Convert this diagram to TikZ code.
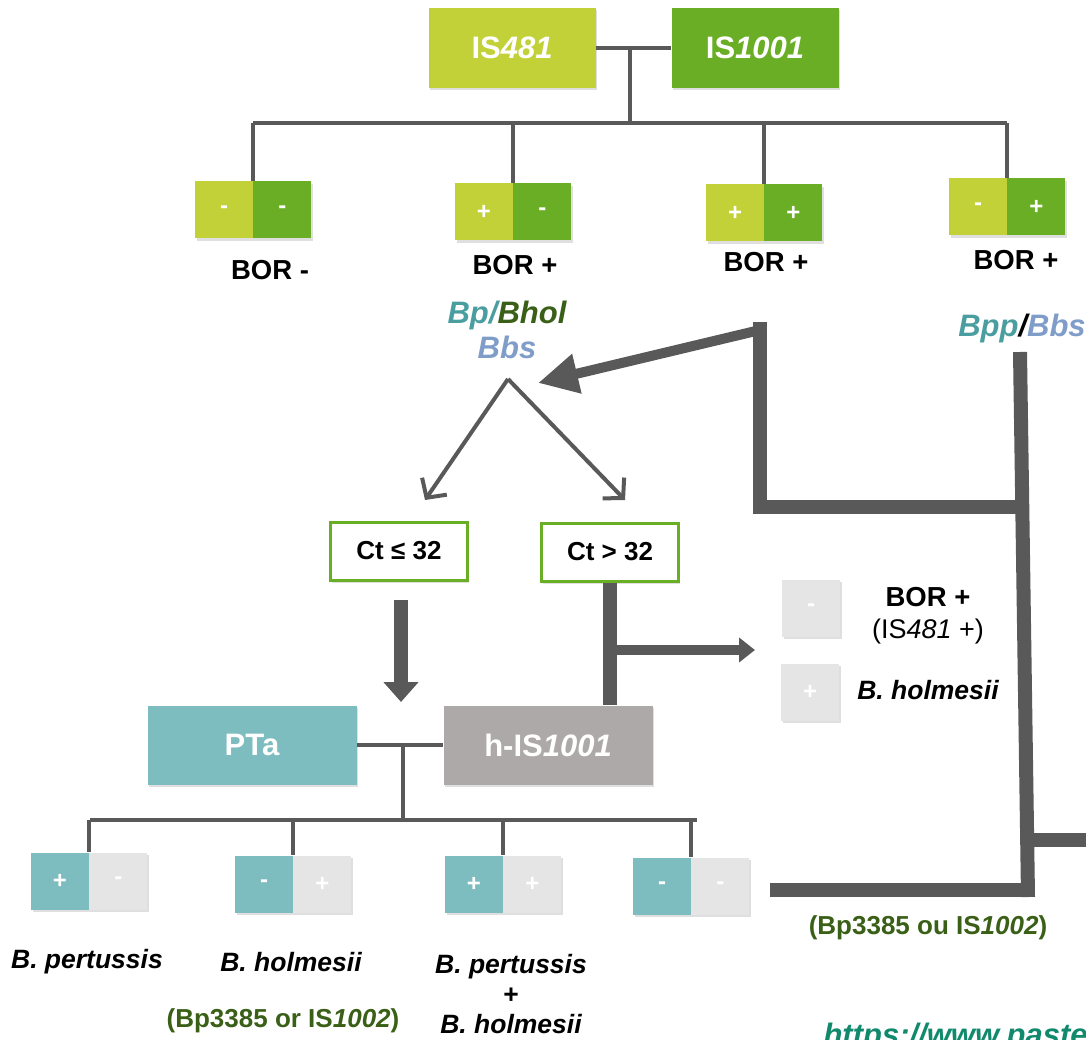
\documentclass[tikz,border=0pt]{standalone}
\usepackage{fontspec}
\setmainfont{Liberation Sans}
\usetikzlibrary{arrows.meta,positioning,shadows}
\definecolor{limegreen}{HTML}{C2D138}
\definecolor{leafgreen}{HTML}{6AAE25}
\definecolor{tealbox}{HTML}{7DBDC0}
\definecolor{taupebox}{HTML}{ADA9A8}
\definecolor{palegray}{HTML}{E5E5E5}
\definecolor{linegray}{HTML}{595959}
\definecolor{darkgreen}{HTML}{3A5F17}
\definecolor{tealtext}{HTML}{4A9E9F}
\definecolor{bluetext}{HTML}{7F9DC8}
\definecolor{urlgreen}{HTML}{11896C}

\begin{document}
\begin{tikzpicture}[x=1pt,y=-1pt,
  boxshadow/.style={drop shadow={shadow xshift=1.5pt,shadow yshift=-2.5pt,opacity=.25}},
  genebox/.style={boxshadow,minimum width=167pt,minimum height=80pt,inner sep=0pt,
    text=white,font=\fontsize{31}{37}\selectfont\bfseries},
  bigbox/.style={boxshadow,minimum width=209pt,minimum height=79pt,inner sep=0pt,
    text=white,font=\fontsize{31}{37}\selectfont\bfseries},
  sq/.style={boxshadow,minimum width=58pt,minimum height=57pt,inner sep=0pt,
    text=white,font=\fontsize{24}{28}\selectfont\bfseries},
  ctbox/.style={boxshadow,draw=leafgreen,line width=3pt,fill=white,minimum width=137pt,
    minimum height=58pt,inner sep=0pt,font=\fontsize{26}{31}\selectfont\bfseries},
  result/.style={font=\fontsize{27.5}{32}\selectfont\bfseries,align=center},
  altgene/.style={font=\fontsize{26}{31}\selectfont\bfseries,text=darkgreen},
  species/.style={font=\fontsize{26.5}{30}\selectfont\bfseries\itshape,align=center},
  link/.style={draw=linegray,line width=4pt},
  bar/.style={draw=linegray,line width=14pt},
  split/.style={draw=linegray,line width=4pt,-{Straight Barb[length=14pt,width=30pt]}},
  fatarrow/.style={draw=linegray,line width=14pt,-{Triangle[length=20pt,width=34pt]}},
  midarrow/.style={draw=linegray,line width=10pt,-{Triangle[length=16pt,width=24pt]}},
  backarrow/.style={draw=linegray,line width=10pt,-{Triangle[length=40pt,width=38pt]}}
]
\useasboundingbox (0,0) rectangle (1086,1040);

% IS481 / IS1001
\node[genebox,fill=limegreen] (is481) at (512,48) {IS\textit{481}};
\node[genebox,fill=leafgreen] (is1001) at (755,48) {IS\textit{1001}};
\draw[link] (is481.east) -- (is1001.west);
\coordinate (topbus) at (630,123);
\draw[link] (topbus |- is481.east) -- (topbus);
\draw[link] (253,123) -- (1007,123);

% first level results
\node[sq,fill=limegreen] (p1a) at (224,210) {-};
\node[sq,fill=leafgreen,right=0pt of p1a] (p1b) {-};
\node[sq,fill=limegreen] (p2a) at (484,212) {+};
\node[sq,fill=leafgreen,right=0pt of p2a] (p2b) {-};
\node[sq,fill=limegreen] (p3a) at (735,213) {+};
\node[sq,fill=leafgreen,right=0pt of p3a] (p3b) {+};
\node[sq,fill=limegreen] (p4a) at (978,207) {-};
\node[sq,fill=leafgreen,right=0pt of p4a] (p4b) {+};
\foreach \p in {p1a,p2a,p3a,p4a}
  \draw[link] (\p.north east |- topbus) -- (\p.north east);
\node[result] (bor1) at (270,270) {BOR -};
\node[result] (bor2) at (515,265) {BOR +};
\node[result] (bor3) at (766,262) {BOR +};
\node[result] (bor4) at (1016,260) {BOR +};

\node[font=\fontsize{31}{35}\selectfont\bfseries\itshape,align=center] (bp) at (507,330)
  {{\color{tealtext}Bp/}{\color{darkgreen}Bhol}\\{\color{bluetext}Bbs}};
\node[font=\fontsize{31}{37}\selectfont\bfseries\itshape] (bpp) at (1022,328)
  {{\color{tealtext}Bpp}/{\color{bluetext}Bbs}};

% Ct split
\coordinate (apex) at (508,379);
\node[ctbox] (ctle) at (399,551) {Ct ≤ 32};
\node[ctbox] (ctgt) at (610,552) {Ct > 32};
\coordinate (tipl) at (425,500);
\coordinate (tipr) at (625,500);
\draw[split] (apex) -- (tipl);
\draw[split] (apex) -- (tipr);

% PTa / h-IS1001
\node[bigbox,fill=tealbox] (pta) at (252,745) {PTa};
\node[bigbox,fill=taupebox] (his) at (548,745) {h-IS\textit{1001}};
\draw[fatarrow] (401,600) -- (401,702);
\draw[bar] (ctgt.south) -- (ctgt.south |- his.north);
\coordinate (branch) at (610,650);
\coordinate (branchend) at (755,650);
\draw[midarrow] (branch) -- (branchend);

\node[sq,fill=palegray] (gm) at (811,608) {-};
\node[sq,fill=palegray] (gp) at (810,692) {+};
\node[result] (borg) at (928,597) {BOR +};
\node[font=\fontsize{27}{32}\selectfont] (isg) at (928,632) {(IS\textit{481} +)};
\node[species] (bholg) at (928,690) {B. holmesii};

\draw[link] (pta.east) -- (his.west);
\coordinate (lowbus) at (403,820);
\draw[link] (lowbus |- pta.east) -- (lowbus);
\draw[link] (90,820) -- (697,820);

% second level results
\node[sq,fill=tealbox] (q1a) at (60,881) {+};
\node[sq,fill=palegray,right=0pt of q1a] (q1b) {-};
\node[sq,fill=tealbox] (q2a) at (264,884) {-};
\node[sq,fill=palegray,right=0pt of q2a] (q2b) {+};
\node[sq,fill=tealbox] (q3a) at (474,884) {+};
\node[sq,fill=palegray,right=0pt of q3a] (q3b) {+};
\node[sq,fill=tealbox] (q4a) at (662,886) {-};
\node[sq,fill=palegray,right=0pt of q4a] (q4b) {-};
\foreach \q in {q1a,q2a,q3a,q4a}
  \draw[link] (\q.north east |- lowbus) -- (\q.north east);

\node[species] (sp1) at (87,962) {B. pertussis};
\node[species] (sp2) at (291,962) {B. holmesii};
\node[species] (sp3) at (511,994)
  {B. pertussis\\{\upshape +}\\B. holmesii};
\node[altgene] (alt1) at (283,1021) {(Bp3385 or IS\textit{1002})};
\node[altgene] (alt2) at (928,928) {(Bp3385 ou IS\textit{1002})};

% thick right-hand routing
\coordinate (vl1) at (760,322);
\coordinate (vl2) at (760,514);
\coordinate (vr1) at (1020,352);
\coordinate (vr2) at (1028,897);
\draw[bar] (vl1) -- (vl2);
\draw[backarrow] (760,330) -- (538,383);
\draw[bar] (753,507) -- (1027,507);
\draw[bar] (vr1) -- (vr2);
\draw[bar] (1028,840) -- (1095,840);
\draw[bar] (770,890) -- (1035,890);

\node[anchor=base west,font=\fontsize{31}{37}\selectfont\bfseries\itshape,text=urlgreen]
  (url) at (820,1045) {https://www.paste};
\end{tikzpicture}
\end{document}
